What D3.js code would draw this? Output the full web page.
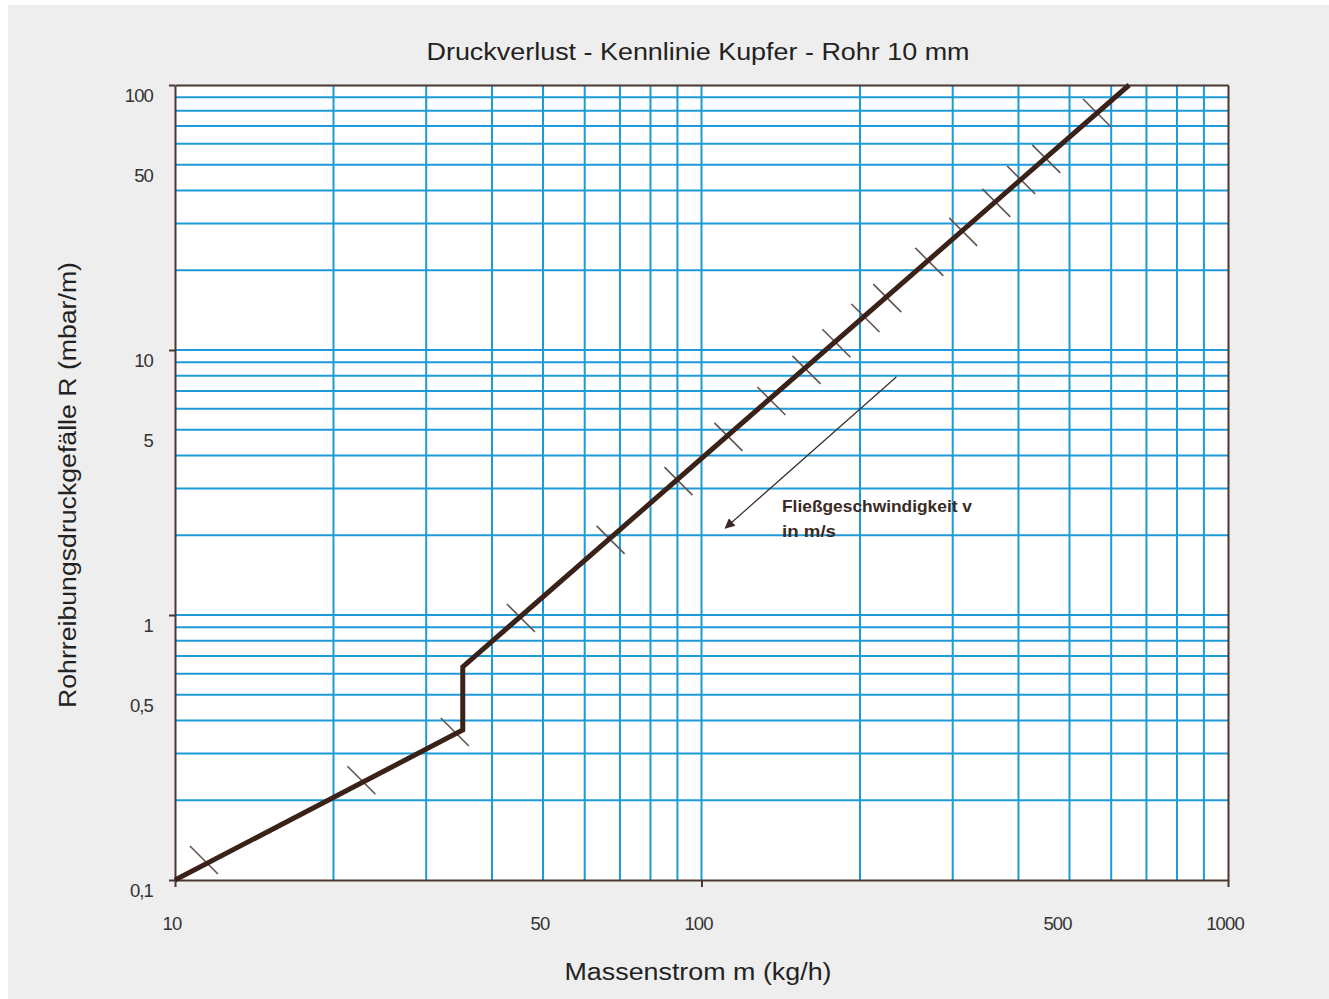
<!DOCTYPE html>
<html>
<head>
<meta charset="utf-8">
<script src="https://cdn.jsdelivr.net/npm/d3@7"></script>
<style>
  body { margin: 0; background: #fff; }
  svg { display: block; }
  text { font-family: "Liberation Sans", Arial, sans-serif; }
</style>
</head>
<body>
<svg id="chart" width="1329" height="999"></svg>
<script>
// kennlinie (massenstrom kg/h , druckgefaelle mbar/m)
var curveFlow = [10, 35.2, 35.2, 649];
var curveDrop = [0.1, 0.368, 0.637, 100];

// marks for fliessgeschwindigkeit along the curve
var markFlow = [11.35, 22.6, 34.0, 45.4, 67.2, 90.4, 112.5, 135.8, 158.3, 180.4, 204.8, 225.4, 270.8, 314, 363, 404.7, 451.6, 564];
var markDrop = [0.119, 0.238, 0.362, 0.974, 1.92, 3.20, 4.70, 6.42, 8.41, 10.6, 13.2, 15.7, 21.5, 27.9, 35.9, 43.8, 52.6, 78.4];

// arrow: start and tip
var arrowFlow = [234.4, 111.0];
var arrowDrop = [7.91, 2.13];

var xLabels = [10, 50, 100, 500, 1000];
var yLabels = [100, 50, 10, 5, 1, 0.5, 0.1];
var xDecades = [10, 100, 1000];
var yDecades = [0.1, 1, 10, 100];

var margin = {left: 175, top: 85},
    width = 1053, height = 795;

var svg = d3.select("#chart");

svg.append("rect")
    .attr("x", 8).attr("y", 5)
    .attr("width", 1321).attr("height", 994)
    .attr("fill", "#eeeeee");

var x = d3.scaleLog().domain([10, 1000]).range([0, width]);
var y = d3.scaleLog().domain([0.1, 100]).range([height, 0]);

var g = svg.append("g")
    .attr("transform", "translate(" + margin.left + "," + margin.top + ")");

g.append("rect")
    .attr("width", width).attr("height", height)
    .attr("fill", "#ffffff");

// blue grid
var xGrid = x.ticks().filter(function(d) { return d > 10 && d < 1000; });
var yGrid = y.ticks().filter(function(d) { return d > 0.1 && d < 100; });

g.append("g").attr("class", "grid")
    .selectAll("line.v").data(xGrid).enter().append("line")
    .attr("x1", function(d) { return x(d); })
    .attr("x2", function(d) { return x(d); })
    .attr("y1", 0).attr("y2", height);

g.append("g").attr("class", "grid")
    .selectAll("line.h").data(yGrid).enter().append("line")
    .attr("y1", function(d) { return y(d); })
    .attr("y2", function(d) { return y(d); })
    .attr("x1", 0).attr("x2", width);

g.selectAll(".grid line")
    .attr("stroke", "#1d9bd8")
    .attr("stroke-width", 2);

// frame + decade ticks
var frameColor = "#4a3731";

g.append("g")
    .attr("transform", "translate(0," + height + ")")
    .call(d3.axisBottom(x).tickValues(xDecades).tickSizeInner(7).tickSizeOuter(0).tickFormat(""))
    .call(function(a) { a.selectAll("path,line").attr("stroke", frameColor).attr("stroke-width", 2); });

g.append("g")
    .call(d3.axisLeft(y).tickValues(yDecades).tickSizeInner(6).tickSizeOuter(0).tickFormat(""))
    .call(function(a) { a.selectAll("path,line").attr("stroke", frameColor).attr("stroke-width", 2); });

g.append("g")
    .attr("transform", "translate(" + width + ",0)")
    .call(d3.axisRight(y).tickValues([]).tickSizeOuter(0))
    .call(function(a) { a.selectAll("path").attr("stroke", frameColor).attr("stroke-width", 2); });

g.append("g")
    .call(d3.axisTop(x).tickValues([]).tickSizeOuter(0))
    .call(function(a) { a.selectAll("path").attr("stroke", frameColor).attr("stroke-width", 2); });

// tick labels
var fmt = function(d) { return String(d).replace(".", ","); };

g.selectAll("text.xl").data(xLabels).enter().append("text")
    .attr("x", function(d) { return x(d) - (d == 500 ? 12 : 3); })
    .attr("y", height + 50)
    .attr("text-anchor", "middle")
    .attr("font-size", 18.5)
    .attr("fill", "#333")
    .attr("letter-spacing", -0.9)
    .text(fmt);

g.selectAll("text.yl").data(yLabels).enter().append("text")
    .attr("x", -22)
    .attr("y", function(d) { return y(d) + 17; })
    .attr("text-anchor", "end")
    .attr("font-size", 18.5)
    .attr("fill", "#333")
    .attr("letter-spacing", -0.9)
    .text(fmt);

// velocity marks
var marks = markFlow.map(function(f, i) { return [x(f), y(markDrop[i])]; });
g.selectAll("line.mark").data(marks).enter().append("line")
    .attr("x1", function(d) { return d[0] - 14; })
    .attr("y1", function(d) { return d[1] - 14; })
    .attr("x2", function(d) { return d[0] + 14; })
    .attr("y2", function(d) { return d[1] + 14; })
    .attr("stroke", "#62534e")
    .attr("stroke-width", 1.6);

// curve
var line = d3.line()
    .x(function(d) { return x(d[0]); })
    .y(function(d) { return y(d[1]); });

g.append("path")
    .datum(curveFlow.map(function(f, i) { return [f, curveDrop[i]]; }))
    .attr("d", line)
    .attr("fill", "none")
    .attr("stroke", "#3a2219")
    .attr("stroke-width", 5)
    .attr("stroke-linejoin", "miter");

// arrow annotation
svg.append("defs").append("marker")
    .attr("id", "head")
    .attr("viewBox", "0 0 10 10")
    .attr("refX", 9).attr("refY", 5)
    .attr("markerWidth", 12).attr("markerHeight", 10)
    .attr("markerUnits", "userSpaceOnUse")
    .attr("orient", "auto")
    .append("path")
    .attr("d", "M0,0L10,5L0,10z")
    .attr("fill", "#3a2a25");

g.append("line")
    .attr("x1", x(arrowFlow[0])).attr("y1", y(arrowDrop[0]))
    .attr("x2", x(arrowFlow[1])).attr("y2", y(arrowDrop[1]))
    .attr("stroke", "#3a2a25")
    .attr("stroke-width", 1.2)
    .attr("marker-end", "url(#head)");

g.append("text")
    .attr("x", 607).attr("y", 427)
    .attr("font-size", 16.5)
    .attr("font-weight", "bold")
    .attr("fill", "#3a2a25")
    .attr("textLength", 190)
    .attr("lengthAdjust", "spacingAndGlyphs")
    .text("Fließgeschwindigkeit v");

g.append("text")
    .attr("x", 607).attr("y", 452)
    .attr("font-size", 16.5)
    .attr("font-weight", "bold")
    .attr("fill", "#3a2a25")
    .attr("textLength", 54)
    .attr("lengthAdjust", "spacingAndGlyphs")
    .text("in m/s");

// titles
svg.append("text")
    .attr("x", 698).attr("y", 60)
    .attr("text-anchor", "middle")
    .attr("font-size", 23)
    .attr("fill", "#222")
    .attr("textLength", 543)
    .attr("lengthAdjust", "spacingAndGlyphs")
    .text("Druckverlust - Kennlinie Kupfer - Rohr 10 mm");

svg.append("text")
    .attr("x", 698).attr("y", 980)
    .attr("text-anchor", "middle")
    .attr("font-size", 23)
    .attr("fill", "#222")
    .attr("textLength", 267)
    .attr("lengthAdjust", "spacingAndGlyphs")
    .text("Massenstrom m (kg/h)");

svg.append("text")
    .attr("transform", "translate(76,485) rotate(-90)")
    .attr("text-anchor", "middle")
    .attr("font-size", 23)
    .attr("fill", "#222")
    .attr("textLength", 446)
    .attr("lengthAdjust", "spacingAndGlyphs")
    .text("Rohrreibungsdruckgefälle R (mbar/m)");
</script>
</body>
</html>
